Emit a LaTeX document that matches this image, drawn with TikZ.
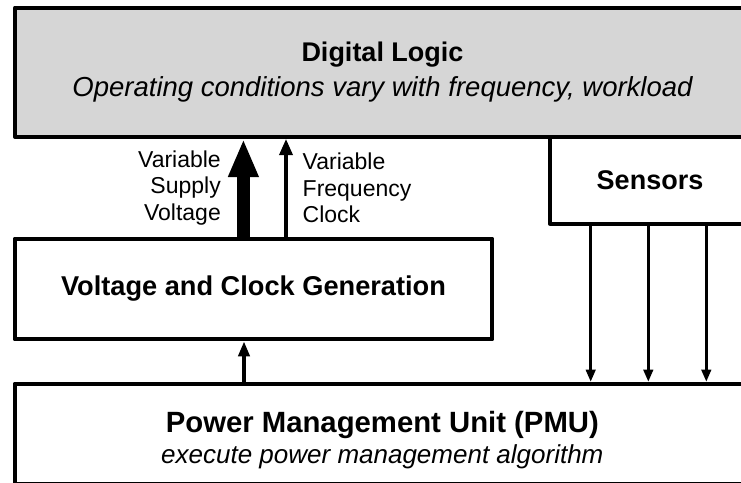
\documentclass[tikz,border=0pt]{standalone}
\usepackage{fontspec}
\setmainfont{Liberation Sans}
\usetikzlibrary{arrows.meta}
\definecolor{logicgray}{RGB}{214,214,214}

\begin{document}
\begin{tikzpicture}[x=1pt,y=-1pt,
  block/.style={draw, line width=4pt, rectangle, inner sep=0pt,
    align=center, anchor=north west, line join=round, fill=white},
  lbl/.style={inner sep=0pt, font=\fontsize{23}{26.5}\selectfont}]

\useasboundingbox (0,0) rectangle (741,482);
\clip (0,0) rectangle (741,482);

% blocks
\node[block, fill=logicgray, minimum width=735pt, minimum height=129.5pt,
      font=\fontsize{27}{35}\selectfont] (logic) at (13,5.5)
  {{\bfseries Digital Logic}\\
   {\fontsize{27.5}{35}\selectfont\itshape Operating conditions vary with frequency, workload}};

\node[block, minimum width=200pt, minimum height=86.7pt,
      font=\fontsize{27}{35}\selectfont\bfseries] (sensors) at (548,135)
  {Sensors};

\node[block, minimum width=477.6pt, minimum height=100.6pt,
      font=\fontsize{27.2}{35}\selectfont\bfseries] (vcg) at (12.7,236.7)
  {Voltage and Clock Generation};

% the strut keeps the two lines a little below the box centre
\node[block, minimum width=735.3pt, minimum height=99.8pt,
      font=\fontsize{29.3}{31}\selectfont] (pmu) at (12.7,381.7)
  {\rule{0pt}{33.4pt}{\bfseries Power Management Unit (PMU)}\\
   {\fontsize{26}{31}\selectfont\itshape execute power management algorithm}};

% x positions of the connectors
\coordinate (vx) at (243.4,0);
\coordinate (cx) at (286,0);
\coordinate (px) at (244,0);
\coordinate (s1) at (590.7,0);
\coordinate (s2) at (648.3,0);
\coordinate (s3) at (706.3,0);

% supply and clock from the generator to the logic
\draw[line width=12.7pt, -{Triangle[length=38pt,width=28pt]}]
  (vx |- vcg.north) -- (vx |- logic.south);
\draw[line width=3.3pt, -{Triangle[length=16pt,width=13pt]}]
  (cx |- vcg.north) -- (cx |- logic.south);

% PMU control of the generator
\draw[line width=4pt, -{Triangle[length=15pt,width=11pt]}]
  (px |- pmu.north) -- (px |- vcg.south);

% sensor readings to the PMU
\foreach \s in {s1,s2,s3}
  \draw[line width=2.6pt, -{Triangle[length=12pt,width=9.5pt]}]
    (\s |- sensors.south) -- (\s |- pmu.north);

% signal labels
\node[lbl, anchor=east, align=right] (supplylabel) at (221,188)
  {Variable\\Supply\\Voltage};
\node[lbl, anchor=west, align=left] (clocklabel) at (302.5,188)
  {Variable\\Frequency\\Clock};

\end{tikzpicture}
\end{document}
